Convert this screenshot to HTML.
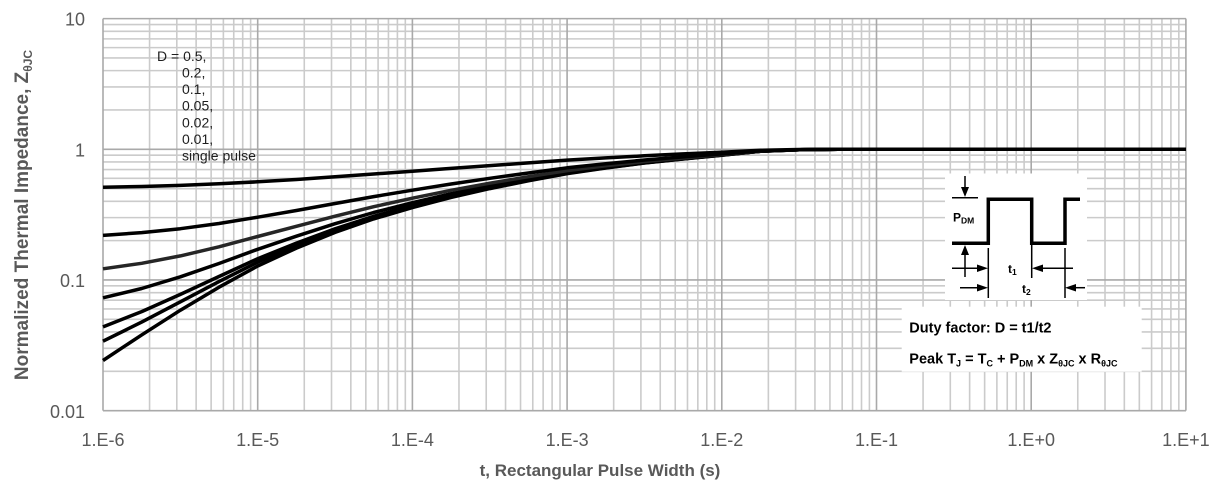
<!DOCTYPE html>
<html><head><meta charset="utf-8"><style>
html,body{margin:0;padding:0;background:#fff;}
svg{display:block;}
text{font-family:"Liberation Sans",Arial,sans-serif;}
</style></head><body>
<svg width="1211" height="486" viewBox="0 0 1211 486" xmlns="http://www.w3.org/2000/svg">
<rect width="1211" height="486" fill="#fff"/>
<!-- minor vertical grid -->
<path fill="none" stroke="#cbcbcb" stroke-width="1.6" d="
M149.57 18.6V410.6M176.81 18.6V410.6M196.14 18.6V410.6M211.13 18.6V410.6M223.38 18.6V410.6M233.74 18.6V410.6M242.71 18.6V410.6M250.62 18.6V410.6
M304.27 18.6V410.6M331.51 18.6V410.6M350.84 18.6V410.6M365.83 18.6V410.6M378.08 18.6V410.6M388.44 18.6V410.6M397.41 18.6V410.6M405.32 18.6V410.6
M458.97 18.6V410.6M486.21 18.6V410.6M505.54 18.6V410.6M520.53 18.6V410.6M532.78 18.6V410.6M543.14 18.6V410.6M552.11 18.6V410.6M560.02 18.6V410.6
M613.67 18.6V410.6M640.91 18.6V410.6M660.24 18.6V410.6M675.23 18.6V410.6M687.48 18.6V410.6M697.84 18.6V410.6M706.81 18.6V410.6M714.72 18.6V410.6
M768.37 18.6V410.6M795.61 18.6V410.6M814.94 18.6V410.6M829.93 18.6V410.6M842.18 18.6V410.6M852.54 18.6V410.6M861.51 18.6V410.6M869.42 18.6V410.6
M923.07 18.6V410.6M950.31 18.6V410.6M969.64 18.6V410.6M984.63 18.6V410.6M996.88 18.6V410.6M1007.24 18.6V410.6M1016.21 18.6V410.6M1024.12 18.6V410.6
M1077.77 18.6V410.6M1105.01 18.6V410.6M1124.34 18.6V410.6M1139.33 18.6V410.6M1151.58 18.6V410.6M1161.94 18.6V410.6M1170.91 18.6V410.6M1178.82 18.6V410.6
"/>
<!-- minor horizontal grid -->
<path fill="none" stroke="#cbcbcb" stroke-width="1.6" d="
M103 109.96H1186M103 86.95H1186M103 70.63H1186M103 57.97H1186M103 47.62H1186M103 38.88H1186M103 31.3H1186M103 24.52H1186
M103 240.63H1186M103 217.62H1186M103 201.3H1186M103 188.64H1186M103 178.29H1186M103 169.55H1186M103 161.97H1186M103 155.19H1186
M103 371.3H1186M103 348.29H1186M103 331.97H1186M103 319.31H1186M103 308.96H1186M103 300.22H1186M103 292.64H1186M103 285.86H1186
"/>
<!-- major grid -->
<path fill="none" stroke="#a9a9a9" stroke-width="1.6" d="
M103 18.6V410.6M257.7 18.6V410.6M412.4 18.6V410.6M567.1 18.6V410.6M721.8 18.6V410.6M876.5 18.6V410.6M1031.2 18.6V410.6M1185.9 18.6V410.6
M103 18.63H1186M103 149.3H1186M103 279.97H1186M103 410.64H1186
"/>

<!-- curves -->
<g fill="none" stroke="#000" stroke-width="3.5" stroke-linejoin="round" stroke-linecap="butt">
<polyline points="103,360.5 141.7,334.9 180.4,310.2 219.0,287.2 257.7,266.0 296.4,248.1 335.1,232.4 373.7,218.9 412.4,207.6 451.1,197.4 489.8,188.6 528.4,180.8 567.1,173.6 605.8,168.0 644.5,163.0 683.1,159.0 721.8,155.2 760.5,151.3 799.2,149.7 837.8,149.3 1186,149.3"/>
<polyline points="103,341.2 141.7,322.1 180.4,301.8 219.0,281.6 257.7,262.2 296.4,245.6 335.1,230.6 373.7,217.6 412.4,206.6 451.1,196.6 489.8,188.1 528.4,180.4 567.1,173.3 605.8,167.8 644.5,162.9 683.1,158.9 721.8,155.1 760.5,151.3 799.2,149.7 837.8,149.3 1186,149.3"/>
<polyline points="103,326.9 141.7,311.6 180.4,294.4 219.0,276.5 257.7,258.7 296.4,243.1 335.1,228.8 373.7,216.3 412.4,205.6 451.1,195.9 489.8,187.5 528.4,180.0 567.1,173.0 605.8,167.6 644.5,162.7 683.1,158.8 721.8,155.0 760.5,151.2 799.2,149.7 837.8,149.3 1186,149.3"/>
<polyline points="103,297.8 141.7,288.5 180.4,276.8 219.0,263.5 257.7,249.3 296.4,236.2 335.1,223.7 373.7,212.5 412.4,202.7 451.1,193.7 489.8,185.9 528.4,178.7 567.1,172.1 605.8,166.9 644.5,162.3 683.1,158.5 721.8,154.8 760.5,151.2 799.2,149.7 837.8,149.3 1186,149.3"/>
<polyline stroke="#262626" points="103,268.8 141.7,263.3 180.4,255.9 219.0,246.8 257.7,236.5 296.4,226.3 335.1,216.2 373.7,206.7 412.4,198.2 451.1,190.3 489.8,183.2 528.4,176.7 567.1,170.6 605.8,165.8 644.5,161.5 683.1,158.0 721.8,154.5 760.5,151.1 799.2,149.7 837.8,149.3 1186,149.3"/>
<polyline points="103,235.4 141.7,232.6 180.4,228.7 219.0,223.5 257.7,217.2 296.4,210.5 335.1,203.5 373.7,196.6 412.4,190.2 451.1,184.0 489.8,178.3 528.4,173.0 567.1,167.8 605.8,163.8 644.5,160.0 683.1,156.9 721.8,153.9 760.5,150.9 799.2,149.7 837.8,149.3 1186,149.3"/>
<polyline points="103,187.3 141.7,186.5 180.4,185.4 219.0,183.8 257.7,181.8 296.4,179.5 335.1,176.8 373.7,174.0 412.4,171.3 451.1,168.4 489.8,165.6 528.4,162.9 567.1,160.1 605.8,157.9 644.5,155.8 683.1,153.9 721.8,152.2 760.5,150.3 799.2,149.5 837.8,149.3 1186,149.3"/>
</g>

<!-- legend text -->
<g font-size="14" fill="#1e1e1e">
<text x="157" y="61">D = 0.5,</text>
<text x="182" y="77.5">0.2,</text>
<text x="182" y="94">0.1,</text>
<text x="182" y="110.7">0.05,</text>
<text x="182" y="127.3">0.02,</text>
<text x="182" y="144">0.01,</text>
<text x="182" y="160.7">single pulse</text>
</g>

<!-- inset diagram -->
<rect x="945" y="173.5" width="142" height="126.5" fill="#fff"/>
<rect x="901.7" y="306.7" width="240" height="65" fill="#fff"/>
<g stroke="#000" stroke-width="1.5" fill="none">
<line x1="965" y1="176" x2="965" y2="190"/>
<line x1="952" y1="197.7" x2="978" y2="197.7"/>
<line x1="965" y1="252" x2="965" y2="277"/>
<line x1="988.3" y1="248" x2="988.3" y2="298"/>
<line x1="1031.7" y1="245" x2="1031.7" y2="278"/>
<line x1="1065" y1="248" x2="1065" y2="298"/>
<line x1="952" y1="268.3" x2="980" y2="268.3"/>
<line x1="1040" y1="268.3" x2="1073" y2="268.3"/>
<line x1="960" y1="287.7" x2="980" y2="287.7"/>
<line x1="1073" y1="287.7" x2="1085" y2="287.7"/>
</g>
<g fill="#000">
<polygon points="961,187 969,187 965,197"/>
<polygon points="961,255 969,255 965,245"/>
<polygon points="977,264.5 977,272 988,268.3"/>
<polygon points="1043,264.5 1043,272 1032,268.3"/>
<polygon points="977,284 977,291.5 988,287.7"/>
<polygon points="1076,284 1076,291.5 1065,287.7"/>
</g>
<polyline fill="none" stroke="#000" stroke-width="3.5" stroke-linejoin="miter" points="952,243.3 988.3,243.3 988.3,199.3 1031.7,199.3 1031.7,243.3 1065,243.3 1065,199.3 1080,199.3"/>
<g font-weight="bold" fill="#000">
<text x="953" y="221.7" font-size="12">P<tspan font-size="8.5" dy="2">DM</tspan></text>
<text x="1008" y="273" font-size="12">t<tspan font-size="8.5" dy="2">1</tspan></text>
<text x="1022" y="293" font-size="12">t<tspan font-size="8.5" dy="2">2</tspan></text>
<text x="909.3" y="332.7" font-size="14.5">Duty factor: D = t1/t2</text>
<text x="909.3" y="363.3" font-size="14.5">Peak T<tspan font-size="9" dy="3">J</tspan><tspan dy="-3"> = T</tspan><tspan font-size="9" dy="3">C</tspan><tspan dy="-3"> + P</tspan><tspan font-size="9" dy="3">DM</tspan><tspan dy="-3"> x Z</tspan><tspan font-size="9" dy="3">θJC</tspan><tspan dy="-3"> x R</tspan><tspan font-size="9" dy="3">θJC</tspan></text>
</g>

<!-- y tick labels -->
<g font-size="18" fill="#595959" text-anchor="end">
<text x="85" y="25.5">10</text>
<text x="85" y="156.5">1</text>
<text x="85" y="287">0.1</text>
<text x="85" y="418">0.01</text>
</g>
<!-- x tick labels -->
<g font-size="18" fill="#595959" text-anchor="middle">
<text x="103" y="446">1.E-6</text>
<text x="257.7" y="446">1.E-5</text>
<text x="412.4" y="446">1.E-4</text>
<text x="567.1" y="446">1.E-3</text>
<text x="721.8" y="446">1.E-2</text>
<text x="876.5" y="446">1.E-1</text>
<text x="1031.2" y="446">1.E+0</text>
<text x="1185.9" y="446">1.E+1</text>
</g>
<!-- axis titles -->
<text x="600" y="476" font-size="17" font-weight="bold" fill="#595959" text-anchor="middle">t, Rectangular Pulse Width (s)</text>
<text transform="translate(28,215) rotate(-90)" font-size="19" font-weight="bold" fill="#595959" text-anchor="middle">Normalized Thermal Impedance, Z<tspan font-size="12" dy="4">θJC</tspan></text>
</svg>
</body></html>
